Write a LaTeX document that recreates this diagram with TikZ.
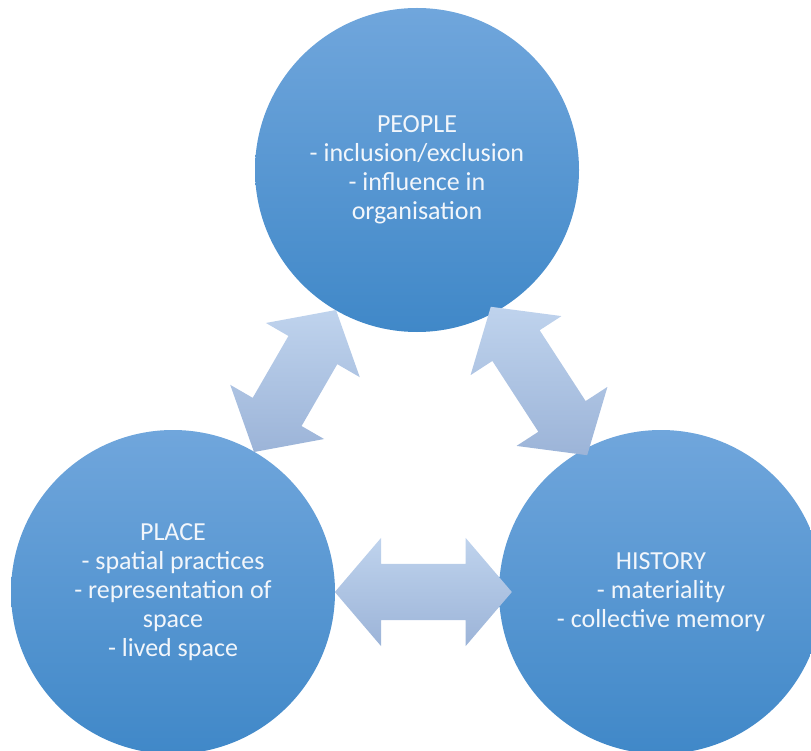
\documentclass[tikz,border=0pt]{standalone}
\usepackage{fontspec}
\setmainfont{Carlito}
\usepackage{xcolor}
\usepackage{tikz}
\usetikzlibrary{shapes.arrows,calc}

\definecolor{ringtop}{RGB}{112,166,220}
\definecolor{ringbot}{RGB}{64,136,200}
\definecolor{ringtext}{RGB}{242,246,251}
\definecolor{linktop}{RGB}{191,211,237}
\definecolor{linkbot}{RGB}{156,180,216}

\begin{document}
\begin{tikzpicture}[x=1pt, y=-1pt,
  topic/.style={circle, minimum size=324pt, inner sep=0pt, align=center, text=ringtext,
    top color=ringtop, bottom color=ringbot, font=\fontsize{26}{29}\selectfont},
  link/.style={double arrow, minimum height=177pt, inner sep=28pt, double arrow head extend=26pt,
    double arrow tip angle=99, top color=linktop, bottom color=linkbot}]
  \useasboundingbox (0,0) rectangle (811,751);
  \clip (0,0) rectangle (811,751);
  \node[topic](people) at (417,170){PEOPLE\\ - inclusion/exclusion\\ - influence in\\ organisation};
  \node[topic](place) at (173,592){PLACE\\ - spatial practices\\ - representation of\\ space\\ - lived space};
  \node[topic](history) at (661,592){HISTORY\\ - materiality\\ - collective memory};
  % two-way links between the circles
  \node[link, rotate=60, minimum height=164pt](placepeople) at ($(place)!0.5!(people)$){};
  \node[link, rotate=-57](peoplehistory) at ($(people)!0.5!(history)$){};
  \node[link](placehistory) at ($(place)!0.513!(history)$){};
\end{tikzpicture}
\end{document}
